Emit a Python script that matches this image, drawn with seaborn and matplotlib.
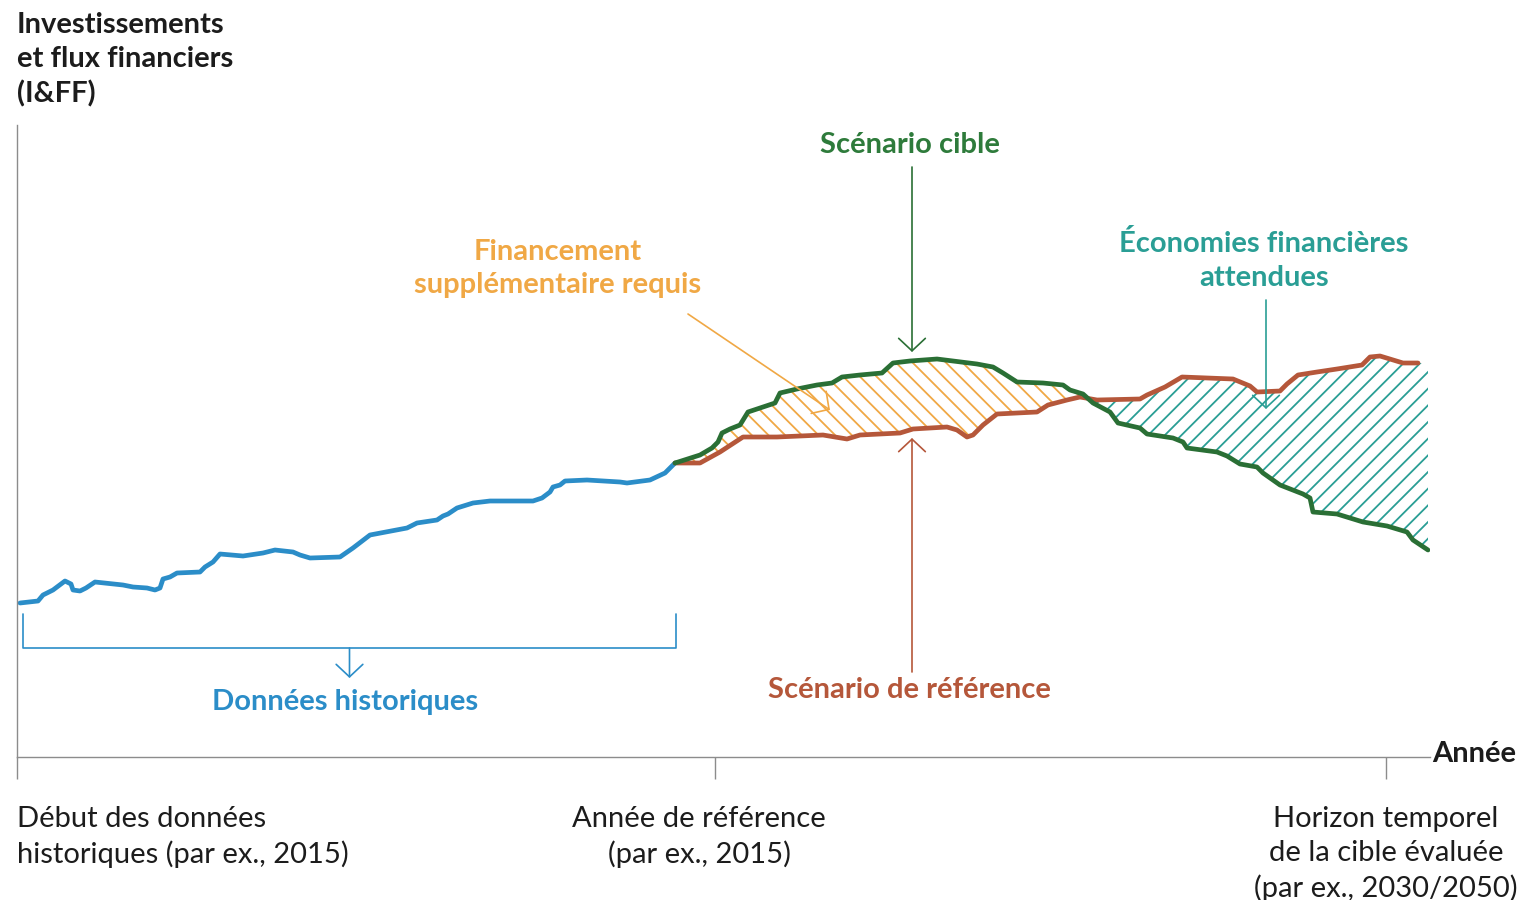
import numpy as np
import matplotlib.pyplot as plt
import seaborn as sns

# Données historiques (position temporelle, niveau I&FF en unités arbitraires)
hist_x = [20, 38, 43, 53, 65, 71, 73, 80, 86, 95, 123, 133, 147, 155, 160, 163, 170, 177,
          200, 205, 213, 220, 243, 263, 275, 293, 300, 310, 340, 353, 370, 407, 417, 437,
          443, 448, 457, 473, 490, 533, 542, 550, 553, 560, 565, 587, 620, 627, 650, 665, 675]
hist_y = [154, 156, 162, 167, 176, 173, 167, 166, 169, 175, 172, 170, 169, 167, 169, 178, 180, 184,
          185, 190, 195, 203, 201, 204, 207, 205, 202, 199, 200, 209, 222, 229, 234, 237,
          241, 243, 249, 254, 256, 256, 259, 265, 270, 272, 276, 277, 275, 274, 277, 284, 294]

# Scénario cible
target_x = [675, 700, 712, 718, 722, 730, 740, 748, 760, 775, 780, 797, 817, 832, 842, 860,
            882, 893, 910, 937, 953, 977, 993, 1003, 1017, 1043, 1063, 1070, 1083, 1093, 1110,
            1118, 1140, 1147, 1173, 1183, 1187, 1217, 1227, 1240, 1257, 1263, 1280, 1303, 1310,
            1313, 1337, 1363, 1387, 1407, 1413, 1428]
target_y = [294, 302, 309, 315, 324, 328, 332, 345, 349, 354, 364, 368, 372, 374, 380, 382,
            384, 394, 396, 398, 396, 393, 390, 384, 375, 374, 372, 367, 363, 354, 345,
            334, 329, 323, 319, 315, 309, 305, 301, 293, 290, 284, 272, 263, 259,
            245, 243, 235, 231, 225, 217, 207]

# Scénario de référence
ref_x = [675, 700, 720, 743, 777, 823, 847, 860, 900, 913, 947, 957, 967, 973, 983, 997,
         1037, 1048, 1067, 1080, 1097, 1140, 1147, 1165, 1182, 1233, 1250, 1257, 1280, 1287,
         1298, 1317, 1337, 1362, 1370, 1380, 1403, 1418]
ref_y = [294, 294, 305, 320, 320, 322, 318, 322, 324, 328, 330, 327, 320, 322, 332, 343,
         345, 352, 357, 360, 357, 358, 362, 370, 380, 378, 371, 365, 366, 373,
         382, 385, 388, 392, 400, 401, 394, 394]

tick_pos = [17, 715, 1386]
tick_labels = ["Début des données\nhistoriques (par ex., 2015)",
               "Année de référence\n(par ex., 2015)",
               "Horizon temporel\nde la cible évaluée\n(par ex., 2030/2050)"]
tick_label_x = [17, 699, 1386]
tick_label_ha = ["left", "center", "center"]

BLUE = "#2b8dc8"
GREEN = "#2a6f35"
GREEN_TXT = "#2e7b3b"
RED = "#b5573a"
ORANGE = "#f0a845"
TEAL = "#2a9e95"
GRAY = "#8c8c8c"
DARK = "#1c1c1c"
FS = 21
LS = 1.38

sns.set_theme(style="white")
plt.rcParams["font.family"] = ["Lato", "DejaVu Sans"]
plt.rcParams["hatch.linewidth"] = 1.3

fig = plt.figure(figsize=(15.21, 9), dpi=100)
ax = fig.add_axes([17 / 1521, 143 / 900, 1413 / 1521, 632 / 900])
ax.set_xlim(17, 1430)
ax.set_ylim(0, 632)

# zones hachurées entre les deux scénarios
grid_x = np.union1d(target_x, ref_x)
g = np.interp(grid_x, target_x, target_y)
r = np.interp(grid_x, ref_x, ref_y)
ax.fill_between(grid_x, r, g, where=g >= r, interpolate=True, facecolor="none",
                edgecolor=ORANGE, hatch="\\\\", linewidth=0)
ax.fill_between(grid_x, g, r, where=r >= g, interpolate=True, facecolor="none",
                edgecolor=TEAL, hatch="//", linewidth=0)

# lignes
line_kw = dict(ax=ax, linewidth=3.4, estimator=None, solid_joinstyle="round",
               solid_capstyle="round")
sns.lineplot(x=hist_x, y=hist_y, color=BLUE, **line_kw)
sns.lineplot(x=ref_x, y=ref_y, color=RED, **line_kw)
sns.lineplot(x=target_x, y=target_y, color=GREEN, **line_kw)

# axes
for s in ["top", "right"]:
    ax.spines[s].set_visible(False)
for s in ["left", "bottom"]:
    ax.spines[s].set_color(GRAY)
    ax.spines[s].set_linewidth(1)
ax.set_yticks([])
ax.set_xticks(tick_pos)
ax.set_xticklabels([])
ax.tick_params(axis="x", direction="out", length=16, width=1, color=GRAY, bottom=True)
for x, lab, ha in zip(tick_label_x, tick_labels, tick_label_ha):
    ax.text(x, -49, lab, ha=ha, va="top", fontsize=FS, color=DARK,
            linespacing=LS, multialignment=ha, clip_on=False)

ax.text(1432, 3, "Année", ha="left", va="center", fontsize=FS, fontweight="bold",
        color=DARK, clip_on=False)
fig.text(17 / 1521, 1 - 59.5 / 900, "Investissements\net flux financiers\n(I&FF)",
         ha="left", va="center", fontsize=FS, fontweight="bold", color=DARK,
         linespacing=LS)

# annotations
def arrow(tail, head, color):
    ax.annotate("", xy=head, xytext=tail,
                arrowprops=dict(arrowstyle="->,head_length=0.75,head_width=0.8",
                                color=color, lw=1.2, shrinkA=0, shrinkB=0))

arrow((912, 590), (912, 405), GREEN)
arrow((912, 85), (912, 319), RED)
arrow((688, 443), (830, 347), ORANGE)
arrow((1266, 457), (1266, 348), TEAL)

# accolade des données historiques
bx0, bx1 = hist_x[0] + 3, hist_x[-1] + 1
ax.plot([bx0, bx0, bx1, bx1], [143, 109, 109, 143], color=BLUE, lw=1.2)
arrow(((bx0 + bx1) / 2, 109), ((bx0 + bx1) / 2, 79), BLUE)

ax.text(910, 612, "Scénario cible", ha="center", va="center", fontsize=FS,
        fontweight="bold", color=GREEN_TXT)
ax.text(558, 488.5, "Financement\nsupplémentaire requis", ha="center", va="center",
        fontsize=FS, fontweight="bold", color=ORANGE, linespacing=LS)
ax.text(1264, 496.5, "Économies financières\nattendues", ha="center", va="center",
        fontsize=FS, fontweight="bold", color=TEAL, linespacing=LS)
ax.text(909, 67, "Scénario de référence", ha="center", va="center", fontsize=FS,
        fontweight="bold", color=RED)
ax.text(345, 55, "Données historiques", ha="center", va="center", fontsize=FS,
        fontweight="bold", color=BLUE)

fig.savefig("out.png", dpi=100)
